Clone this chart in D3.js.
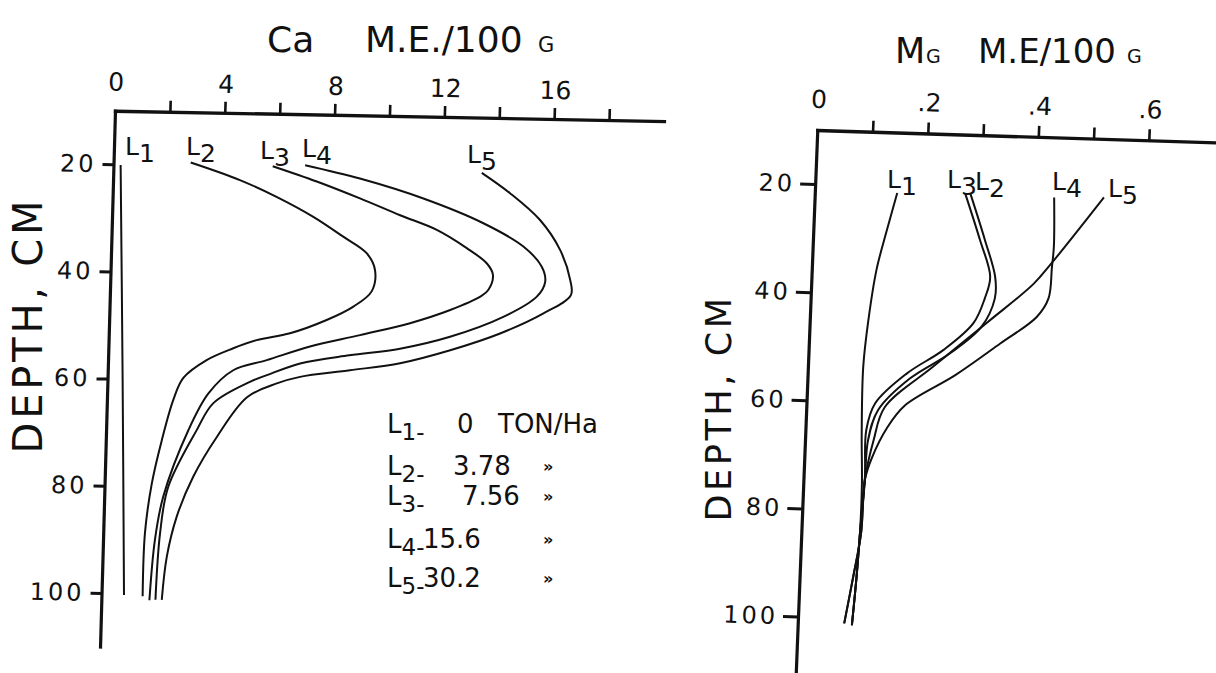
<!DOCTYPE html>
<html>
<head>
<meta charset="utf-8">
<script src="https://cdn.jsdelivr.net/npm/d3@7"></script>
<style>
  body { margin: 0; background: #fff; }
  svg { display: block; background: #fff; }
  text { font-family: "DejaVu Sans", sans-serif; fill: #111; }
</style>
</head>
<body>
<svg id="chart" width="1216" height="673"></svg>
<script>
// Exchangeable Ca and Mg (M.E./100 g) against soil depth for five lime levels.
// Each profile is a list of [depth cm, value] pairs.
const seriesNames = ["1", "2", "3", "4", "5"];
const limeRates = ["0", "3.78", "7.56", "15.6", "30.2"];
const depthTicks = [20, 40, 60, 80, 100];

const caTicks = [2, 4, 6, 8, 10, 12, 14, 16, 18];
const caTickLabels = [0, 4, 8, 12, 16];
const caL1 = [[20.1, 0.26], [60, 0.55], [100.3, 0.82]];
const caL2 = [[19.4, 2.81], [22.5, 4.62], [25.5, 5.97], [29.1, 7.33], [32.7, 8.44], [35.7, 9.31],
  [38.8, 9.63], [42.8, 9.53], [45.7, 8.88], [48.3, 7.92], [50.9, 6.60], [52.3, 5.39], [53.9, 4.55],
  [56.2, 3.59], [59.6, 2.76], [63.7, 2.42], [71.3, 2.04], [79.4, 1.72], [88.7, 1.52], [100.5, 1.50]];
const caL3 = [[19.8, 5.80], [22.5, 7.42], [25.5, 9.01], [28.5, 10.49], [31.1, 11.84], [34.4, 12.95],
  [37.2, 13.70], [39.3, 13.93], [42.1, 13.78], [43.4, 13.49], [46.0, 12.41], [48.6, 10.96], [51.0, 9.15],
  [53.3, 7.34], [56.0, 5.78], [58.0, 4.57], [62.4, 3.69], [69.3, 3.00], [81.8, 2.15], [89.9, 1.89], [101.2, 1.75]];
const caL4 = [[19.5, 6.98], [21.8, 8.99], [25.3, 11.32], [29.7, 13.53], [33.9, 15.01], [37.6, 15.70],
  [40.4, 15.84], [43.2, 15.55], [47.1, 14.35], [51.0, 12.43], [53.4, 10.62], [54.8, 8.78], [56.5, 7.00],
  [58.8, 5.80], [60.1, 5.19], [64.2, 3.88], [69.3, 3.30], [80.0, 2.32], [88.7, 2.07], [101.1, 1.97]];
const caL5 = [[20.3, 13.42], [24.0, 14.47], [28.9, 15.59], [34.4, 16.35], [40.0, 16.75], [42.8, 16.79],
  [46.3, 15.81], [50.2, 14.25], [53.5, 12.45], [56.1, 10.64], [57.6, 8.82], [59.0, 7.01], [60.3, 6.17],
  [63.0, 5.10], [70.5, 4.04], [78.0, 3.22], [85.5, 2.66], [93.0, 2.34], [101.1, 2.20]];

const mgTicks = [0.1, 0.2, 0.3, 0.4, 0.5, 0.6];
const mgTickLabels = [0, 0.2, 0.4, 0.6];
const mgL1 = [[21.2, 0.149], [28.1, 0.133], [35.5, 0.117], [44.8, 0.106], [53.5, 0.100], [65.8, 0.102],
  [75.1, 0.106], [84.3, 0.106], [92.3, 0.103], [101.3, 0.098]];
const mgL2 = [[20.8, 0.281], [29.4, 0.311], [36.1, 0.332], [40.1, 0.333], [45.4, 0.311], [50.5, 0.256],
  [55.4, 0.185], [61.4, 0.130], [67.0, 0.114], [74.4, 0.111], [84.3, 0.106], [92.3, 0.103], [101.3, 0.098]];
const mgL3 = [[20.9, 0.272], [29.4, 0.302], [36.1, 0.323], [40.1, 0.315], [44.8, 0.296], [49.9, 0.244],
  [54.5, 0.179], [60.2, 0.124], [65.2, 0.110], [74.4, 0.111], [84.3, 0.106], [92.3, 0.103], [101.3, 0.098]];
const mgL4 = [[21.1, 0.433], [30.2, 0.436], [33.9, 0.434], [39.8, 0.430], [43.3, 0.410], [48.4, 0.346],
  [54.5, 0.267], [60.4, 0.178], [64.7, 0.147], [70.3, 0.122], [74.4, 0.111], [84.3, 0.108], [92.3, 0.097], [101.0, 0.084]];
const mgL5 = [[20.8, 0.523], [33.4, 0.432], [37.2, 0.402], [44.5, 0.322], [53.1, 0.226], [60.8, 0.142],
  [67.0, 0.124], [74.4, 0.111], [84.3, 0.108], [92.3, 0.097], [101.0, 0.084]];

const INK = "#111";
const svg = d3.select("#chart");

// Draws one hand-ruled panel; the frame is a slightly tilted affine matrix
function panel(cfg) {
  const g = svg.append("g").attr("transform", `matrix(${cfg.matrix.join(",")})`);
  const x = d3.scaleLinear().domain(cfg.xDomain).range([0, cfg.xLen]);
  const y = d3.scaleLinear().domain([10, cfg.yMax]).range([0, cfg.yLen]);

  // top axis: ruled line with upward ticks
  const top = g.append("g")
    .call(d3.axisTop(x).tickValues(cfg.ticks).tickSizeInner(11).tickSizeOuter(0).tickFormat(""));
  top.select(".domain").attr("stroke", INK).attr("stroke-width", 3.4).attr("stroke-linecap", "square");
  top.selectAll(".tick line").attr("stroke", INK).attr("stroke-width", 2.6);

  // top axis numbers
  const topLab = g.append("g")
    .call(d3.axisTop(x).tickValues(cfg.labels).tickSize(0).tickPadding(cfg.xPad).tickFormat(cfg.fmt));
  topLab.select(".domain").remove();
  topLab.attr("font-family", null).attr("font-size", null);
  topLab.selectAll("text").style("font-size", cfg.xFont + "px");

  // depth axis
  const left = g.append("g")
    .call(d3.axisLeft(y).tickValues(depthTicks).tickSizeInner(cfg.yTick).tickSizeOuter(0)
      .tickPadding(cfg.yPad).tickFormat(d3.format("d")));
  left.select(".domain").attr("stroke", INK).attr("stroke-width", 3.2).attr("stroke-linecap", "square");
  left.selectAll(".tick line").attr("stroke", INK).attr("stroke-width", 3);
  left.attr("font-family", null).attr("font-size", null);
  left.selectAll("text").style("font-size", cfg.yFont + "px").style("letter-spacing", "3px");

  // profiles
  const line = d3.line()
    .x(d => x(d[1]))
    .y(d => y(d[0]))
    .curve(d3.curveCatmullRom.alpha(0.5));
  g.selectAll("path.profile")
    .data(cfg.series)
    .join("path")
    .attr("class", "profile")
    .attr("d", line)
    .attr("fill", "none")
    .attr("stroke", INK)
    .attr("stroke-width", 2)
    .attr("stroke-linejoin", "round");
  return g;
}

panel({
  matrix: [0.99982, 0.01885, -0.0279, 0.99961, 115, 110.7],
  xDomain: [0, 20], xLen: 549,
  yMax: 110, yLen: 536,
  ticks: caTicks, labels: caTickLabels, fmt: d3.format("d"),
  xPad: 20, xFont: 25,
  yTick: 11, yPad: 6, yFont: 24,
  series: [caL1, caL2, caL3, caL4, caL5]
});

panel({
  matrix: [0.99952, 0.0309, -0.0396, 0.99922, 817.3, 130],
  xDomain: [0, 0.72], xLen: 398,
  yMax: 110.5, yLen: 543.7,
  ticks: mgTicks, labels: mgTickLabels, fmt: d => d === 0 ? "0" : "." + Math.round(d * 10),
  xPad: 22, xFont: 25,
  yTick: 15, yPad: 5, yFont: 24,
  series: [mgL1, mgL2, mgL3, mgL4, mgL5]
});

// titles
function title(parts, baseline) {
  parts.forEach(p => svg.append("text").attr("x", p[1]).attr("y", baseline)
    .style("font-size", p[2] + "px").text(p[0]));
}
title([["Ca", 267, 36], ["M.E./100", 365, 36], ["G", 538, 21]], 52);
title([["M", 895, 35], ["G", 926, 19], ["M.E/100", 978, 34], ["G", 1127, 19]], 63);

// depth axis titles
function depthTitle(x, y, size, spacing) {
  svg.append("text")
    .attr("transform", `translate(${x},${y}) rotate(-90)`)
    .attr("text-anchor", "middle")
    .style("font-size", size + "px")
    .style("letter-spacing", spacing + "px")
    .text("DEPTH, CM");
}
depthTitle(42, 325, 40, 3.8);
depthTitle(731, 408, 35, 3.6);

// curve tags: L with a lowered number
function tag(x, y, n, size) {
  const t = svg.append("text").attr("x", x).attr("y", y).style("font-size", size + "px");
  t.append("tspan").text("L");
  t.append("tspan").attr("dy", 7).text(n);
}
const caTagPos = [[125, 155], [186, 155], [260, 159], [302, 157], [467, 163]];
const mgTagPos = [[887, 188], [975, 190], [947, 188], [1052, 190], [1108, 197]];
seriesNames.forEach((n, i) => {
  tag(caTagPos[i][0], caTagPos[i][1], n, 25);
  tag(mgTagPos[i][0], mgTagPos[i][1], n, 25);
});

// lime rate key
const keyBase = [433, 475, 505, 548, 587];
const keyRateX = [457, 453, 462, 423, 423];
seriesNames.forEach((n, i) => {
  const t = svg.append("text").attr("x", 387).attr("y", keyBase[i]).style("font-size", "26px");
  t.append("tspan").text("L");
  t.append("tspan").attr("dy", 7).style("font-size", "23px").text(n + "-");
  svg.append("text").attr("x", keyRateX[i]).attr("y", keyBase[i]).style("font-size", "26px")
    .text(limeRates[i]);
  if (i === 0) {
    svg.append("text").attr("x", 498).attr("y", keyBase[i]).style("font-size", "26px").text("TON/Ha");
  } else {
    svg.append("text").attr("x", 543).attr("y", keyBase[i] - 3)
      .style("font-size", "16px").style("font-weight", "bold").text("»");
  }
});
</script>
</body>
</html>
